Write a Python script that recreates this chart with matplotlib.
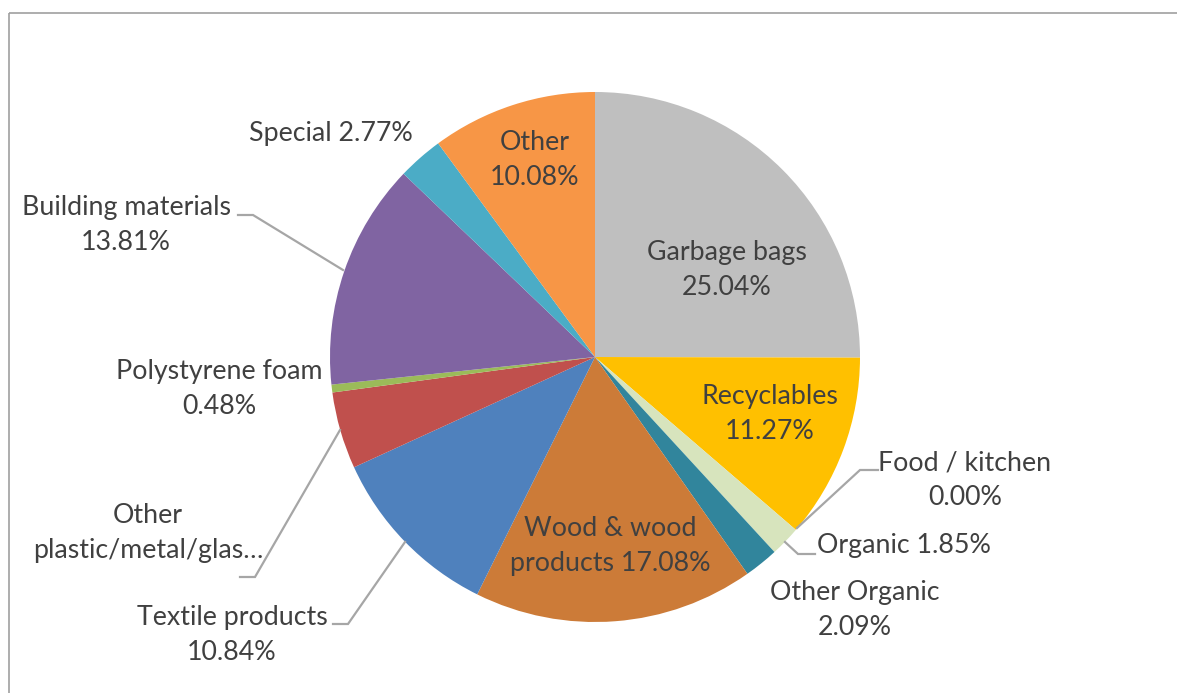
import matplotlib.pyplot as plt
from matplotlib.patches import Rectangle

categories = ["Garbage bags", "Recyclables", "Food / kitchen", "Organic", "Other Organic",
              "Wood & wood products", "Textile products", "Other plastic/metal/glass",
              "Polystyrene foam", "Building materials", "Special", "Other"]
shares = [25.04, 11.27, 0.00, 1.85, 2.09, 17.08, 10.84, 4.69, 0.48, 13.81, 2.77, 10.08]
colors = ["#BFBFBF", "#FFC000", "#EEECE1", "#D7E4BD", "#31859C", "#CC7B38",
          "#4F81BD", "#C0504D", "#9BBB59", "#8064A2", "#4BACC6", "#F79646"]

plt.rcParams["font.family"] = ["Lato", "DejaVu Sans"]
TXT = "#404040"
LEAD = "#A6A6A6"

fig = plt.figure(figsize=(11.77, 6.93), dpi=100)
ax = fig.add_axes([0, 0, 1, 1])

# pixel-style coordinates, y pointing down, so angles run the other way
ax.pie(shares, colors=colors, center=(595, 357), radius=265,
       startangle=-90, counterclock=True,
       wedgeprops=dict(linewidth=0))
ax.set_xlim(0, 1177)
ax.set_ylim(693, 0)
ax.set_aspect("equal")
ax.axis("off")

# chart frame
ax.add_patch(Rectangle((8.5, 13), 1300, 800, fill=False, edgecolor="#A0A0A0", lw=1.2, clip_on=False))

def pct(i):
    return f"{shares[i]:.2f}%"

fs = 19.3
labels = [
    (727, 270, f"Garbage bags\n{pct(0)}"),
    (770, 414, f"Recyclables\n{pct(1)}"),
    (965, 480, f"Food / kitchen\n{pct(2)}"),
    (904, 546, f"Organic {pct(3)}"),
    (855, 610, f"Other Organic\n{pct(4)}"),
    (610, 546, f"Wood & wood\nproducts {pct(5)}"),
    (232, 635, f"Textile products\n{pct(6)}"),
    (148, 533, "Other\nplastic/metal/glas\u2026"),
    (219, 389, f"Polystyrene foam\n{pct(8)}"),
    (126, 225, f"Building materials\n{pct(9)}"),
    (331, 133, f"Special {pct(10)}"),
    (535, 160, f"Other\n{pct(11)}"),
]
for x, y, s in labels:
    ax.text(x, y, s, ha="center", va="center", fontsize=fs, color=TXT, linespacing=1.5)

# leader lines from outside labels to their slices
leaders = [
    [(238, 215), (253, 215), (343, 270)],
    [(240, 577), (255, 577), (340, 430)],
    [(333, 624), (348, 624), (405, 542)],
    [(878, 470), (860, 470), (797, 528)],
    [(815, 554), (798, 554), (785, 542)],
]
for pts in leaders:
    xs, ys = zip(*pts)
    ax.plot(xs, ys, color=LEAD, lw=1.6, solid_joinstyle="miter")

fig.savefig("out.png", dpi=100)
